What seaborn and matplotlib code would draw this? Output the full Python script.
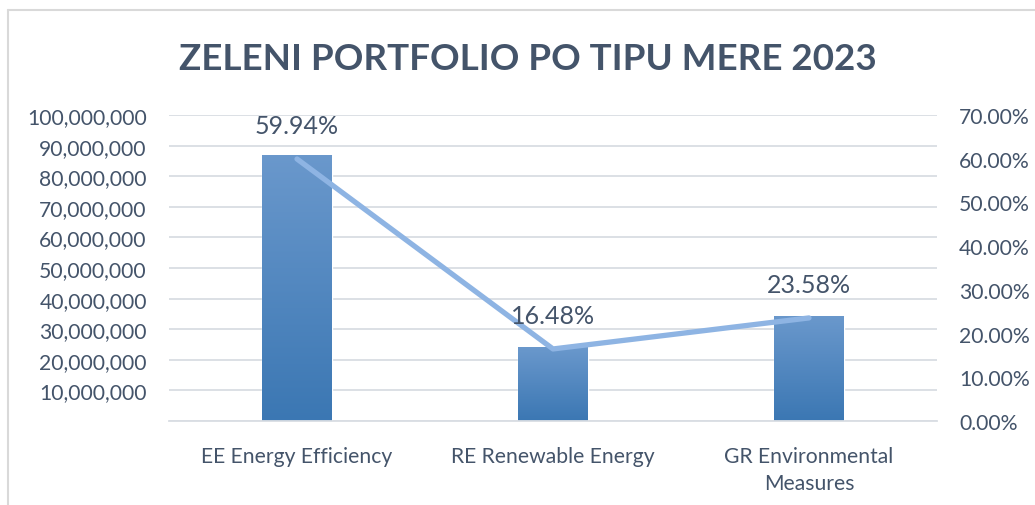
import numpy as np
import pandas as pd
import seaborn as sns
import matplotlib.pyplot as plt
from matplotlib.lines import Line2D
from matplotlib.colors import LinearSegmentedColormap
from matplotlib.ticker import FuncFormatter, MultipleLocator

# data
categories = ['EE Energy Efficiency', 'RE Renewable Energy', 'GR Environmental\nMeasures']
amounts = [86900000, 23900000, 34200000]
shares = [59.94, 16.48, 23.58]

sns.set_style('white')
plt.rcParams['font.family'] = ['Lato', 'DejaVu Sans']

txt = '#44546A'
grid = '#D9DDE3'

df = pd.DataFrame({'mera': categories, 'iznos': amounts, 'udeo': shares})

fig = plt.figure(figsize=(10.35, 5.06), dpi=100)
ax = fig.add_axes([169/1035, 1 - 422/506, 768/1035, 306/506])

sns.barplot(data=df, x='mera', y='iznos', ax=ax, width=0.27,
            color='#4A86C0', saturation=1, zorder=2)

# vertical gradient on the bars
cmap = LinearSegmentedColormap.from_list('bar', ['#3B77B3', '#6A98CC'])
grad = np.linspace(0, 1, 256).reshape(-1, 1)
for p in ax.patches:
    x0, w, h = p.get_x(), p.get_width(), p.get_height()
    ax.imshow(grad, extent=[x0, x0 + w, 0, h], origin='lower', aspect='auto',
              cmap=cmap, zorder=2.1)

ax.set_xlim(-0.5, 2.5)
ax.set_ylim(0, 1e8)
ax.yaxis.set_major_locator(MultipleLocator(1e7))
ax.yaxis.set_major_formatter(FuncFormatter(lambda v, p: '' if v == 0 else f'{v:,.0f}'))
ax.yaxis.grid(True, color=grid, lw=1.3)
ax.set_axisbelow(True)
ax.set_xlabel('')
ax.set_ylabel('')
for s in ['top', 'left', 'right']:
    ax.spines[s].set_visible(False)
ax.spines['bottom'].set_color(grid)
ax.spines['bottom'].set_linewidth(1.3)
ax.tick_params(axis='y', length=0, pad=16, labelsize=15.2, labelcolor=txt)
ax.tick_params(axis='x', length=0, pad=18, labelsize=15.2, labelcolor=txt)
for lab in ax.get_xticklabels():
    lab.set_linespacing(1.45)

ax2 = ax.twinx()
sns.lineplot(x=np.arange(len(shares)), y=np.array(shares) / 100, ax=ax2,
             color='#8EB4E3', lw=3.8, solid_capstyle='round', zorder=3)
ax2.set_ylim(0, 0.7)
ax2.yaxis.set_major_locator(MultipleLocator(0.1))
ax2.yaxis.set_major_formatter(FuncFormatter(lambda v, p: f'{v*100:.2f}%'))
ax2.tick_params(axis='y', length=0, pad=16, labelsize=15.2, labelcolor=txt)
ax2.set_ylabel('')
for s in ax2.spines.values():
    s.set_visible(False)

for i, s in enumerate(shares):
    ax2.annotate(f'{s:.2f}%', (i, s / 100), xytext=(0, 24), textcoords='offset points',
                 ha='center', va='center', fontsize=18, color=txt)

fig.text(528/1035, 1 - 59/506, 'ZELENI PORTFOLIO PO TIPU MERE 2023',
         ha='center', va='center', fontsize=26.5, fontweight='bold', color=txt)

# chart area border
fig.add_artist(Line2D([8/1035, 8/1035], [0, 1 - 11/506], color='#D9D9D9', lw=1.5))
fig.add_artist(Line2D([8/1035, 1], [1 - 11/506, 1 - 11/506], color='#D9D9D9', lw=1.5))

fig.savefig('out.png', dpi=100)
